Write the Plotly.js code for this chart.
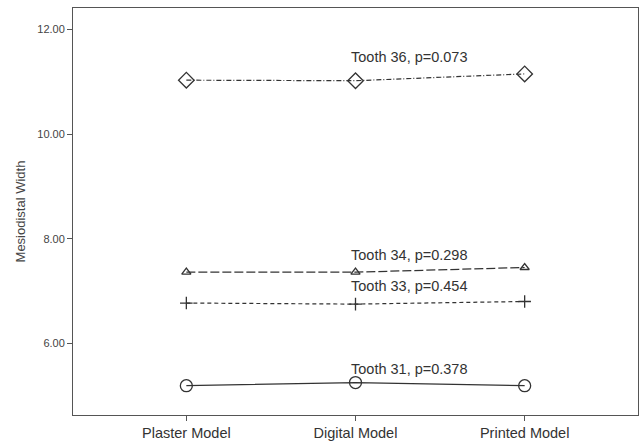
<!DOCTYPE html>
<html><head><meta charset="utf-8">
<script src="https://cdn.plot.ly/plotly-3.0.1.min.js"></script>
<style>html,body{margin:0;padding:0;background:#fff}#chart{width:641px;height:443px}</style>
</head><body><div id="chart"></div>
<script>
const categories = ["Plaster Model", "Digital Model", "Printed Model"];
const tooth36 = [11.03, 11.02, 11.15];
const tooth34 = [7.36, 7.36, 7.45];
const tooth33 = [6.77, 6.75, 6.80];
const tooth31 = [5.19, 5.25, 5.19];
const seriesLabels = ["Tooth 36, p=0.073", "Tooth 34, p=0.298", "Tooth 33, p=0.454", "Tooth 31, p=0.378"];
const labelY = [11.47, 7.69, 7.09, 5.50];

const lc = '#333';
function tr(y, dash, sym, size) {
  return {x: [0,1,2], y: y, type: 'scatter', mode: 'lines+markers',
    line: {color: lc, width: 1.2, dash: dash},
    marker: {symbol: sym, size: size, color: lc, line: {color: lc, width: 1.3}},
    showlegend: false, hoverinfo: 'none'};
}
const data = [
  tr(tooth36, '5px,2px,1px,2px', 'diamond-open', 12),
  tr(tooth34, '9px,3px', 'triangle-up-open', 8),
  tr(tooth33, '4px,3px', 'cross-thin-open', 9),
  tr(tooth31, 'solid', 'circle-open', 12)
];
const annotations = seriesLabels.map((t, i) => ({
  x: 1, y: labelY[i], xref: 'x', yref: 'y', text: t, showarrow: false,
  xanchor: 'left', xshift: -7, font: {family: 'Liberation Sans, Arial', size: 14.5, color: '#333'}
}));
const layout = {
  width: 641, height: 443,
  margin: {l: 73, r: 3, t: 8, b: 28},
  paper_bgcolor: '#fff', plot_bgcolor: '#fff',
  font: {family: 'Liberation Sans, Arial', color: '#333'},
  xaxis: {range: [-0.67, 2.67], tickvals: [0,1,2], ticktext: categories,
    showgrid: false, zeroline: false, showline: true, mirror: true,
    linecolor: '#555', linewidth: 1, ticks: 'outside', ticklen: 5, tickcolor: '#555',
    tickfont: {size: 14.5, color: '#333'}},
  yaxis: {range: [4.63, 12.41], tickvals: [6, 8, 10, 12], ticktext: ['6.00','8.00','10.00','12.00'],
    showgrid: false, zeroline: false, showline: true, mirror: true,
    linecolor: '#555', linewidth: 1, ticks: 'outside', ticklen: 5, tickcolor: '#555',
    tickfont: {size: 11, color: '#444'},
    title: {text: 'Mesiodistal Width', font: {size: 13, color: '#444'}, standoff: 8}},
  annotations: annotations
};
Plotly.newPlot('chart', data, layout, {staticPlot: true});
</script></body></html>
